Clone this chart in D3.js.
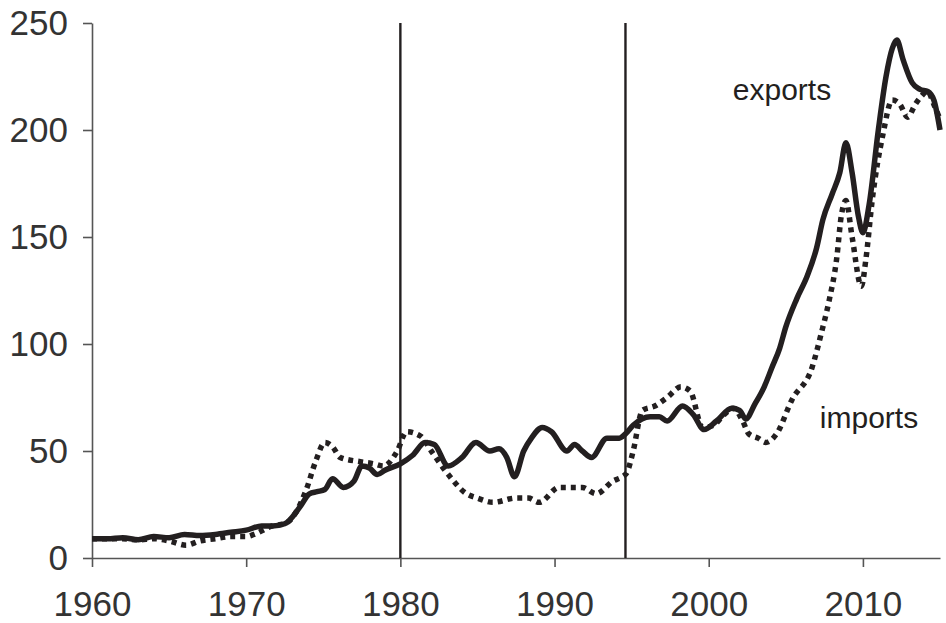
<!DOCTYPE html>
<html>
<head>
<meta charset="utf-8">
<script src="https://cdn.jsdelivr.net/npm/d3@7"></script>
<style>
  body { margin: 0; background: #fff; }
</style>
</head>
<body>
<div class="main"></div>
<script>
const width = 946;
const height = 623;
const margin = ({top: 23, right: 6, bottom: 65, left: 92});

// exports (solid line)
const exportYears = [1960, 1961, 1962, 1963, 1964, 1965, 1966, 1967, 1968, 1969, 1970, 1971, 1971.7, 1972.5, 1973.5, 1974.1, 1974.6, 1975.1, 1975.6, 1976.3, 1977, 1977.5, 1978, 1978.5, 1979, 1980, 1980.8, 1981.6, 1982.2, 1983.1, 1984, 1984.9, 1985.8, 1986.4, 1986.9, 1987.4, 1988, 1988.5, 1989.2, 1989.8, 1990.8, 1991.3, 1991.8, 1992.4, 1993.4, 1994.2, 1994.6, 1995.1, 1996.2, 1996.8, 1997.3, 1998.3, 1999, 1999.7, 2000.5, 2001.5, 2002, 2002.4, 2003, 2003.6, 2004.1, 2004.6, 2005, 2005.7, 2006.4, 2007, 2007.4, 2008, 2008.5, 2008.9, 2009.3, 2009.7, 2010, 2010.4, 2011, 2011.5, 2011.9, 2012.2, 2012.6, 2013.2, 2013.7, 2014.2, 2014.6, 2015];
const exportValues = [9, 9, 9.5, 8.5, 10, 9.5, 11, 10.5, 11, 12, 13, 15, 15, 16, 24, 30, 31, 32, 37, 33, 36, 43, 42, 39, 41, 44, 48, 54, 53, 43, 47, 54, 50, 51, 47, 38, 50, 56, 61, 59, 50, 53, 50, 47, 56, 56, 58, 62, 66, 66, 64, 71, 67, 60, 64, 70, 69, 65, 72, 80, 89, 98, 108, 121, 132, 145, 158, 170, 180, 194, 180, 160, 152, 165, 200, 225, 238, 242, 233, 222, 219, 218, 214, 200];

// imports (dotted line)
const importYears = [1960, 1961, 1962, 1963, 1964, 1965, 1966.1, 1967, 1968, 1969, 1970, 1970.5, 1971.7, 1972.5, 1973.2, 1973.9, 1974.5, 1975.1, 1975.6, 1976.1, 1977.4, 1978.3, 1978.9, 1979.8, 1980.4, 1981.3, 1982.1, 1983, 1984.3, 1985, 1986, 1987.5, 1988.3, 1989, 1990.3, 1991.8, 1992.7, 1993.8, 1994.4, 1994.7, 1995.1, 1995.7, 1996.5, 1997.3, 1998.2, 1998.8, 1999.6, 2000.3, 2001, 2001.6, 2002.2, 2002.6, 2003.2, 2003.7, 2004.4, 2005.4, 2006.7, 2007.3, 2007.8, 2008.3, 2008.6, 2008.9, 2009.3, 2009.9, 2010.2, 2010.6, 2011.3, 2011.9, 2012.4, 2012.9, 2013.4, 2013.7, 2014.2, 2014.6, 2015];
const importValues = [9, 9, 9, 8.5, 9, 8, 6, 8, 9, 10, 10, 11, 15, 16, 21, 32, 45, 54, 52, 47, 45, 44, 43, 50, 59, 57, 49, 40, 30, 28, 26, 28, 28, 26, 33, 33, 30, 36, 38, 40, 50, 69, 71, 75, 80, 78, 61, 62, 67, 70, 64, 58, 56, 54, 58, 74, 89, 105, 120, 140, 160, 167, 150, 127, 140, 167, 198, 214, 212, 206, 212, 215, 218, 212, 205];

const xTicks = [1960, 1970, 1980, 1990, 2000, 2010];
const yTicks = [0, 50, 100, 150, 200, 250];
const breakYears = [1980, 1994.6];

const svg = d3.select('.main')
  .append('svg')
  .attr('width', width)
  .attr('height', height)
  .style('font-family', '"Liberation Sans", Arial, Helvetica, sans-serif');

const x = d3.scaleLinear()
  .domain([1960, 2015])
  .range([margin.left, width - margin.right]);

const y = d3.scaleLinear()
  .domain([0, 250])
  .range([height - margin.bottom, margin.top]);

// axes
const xAxis = svg.append('g')
  .attr('transform', `translate(0, ${y(0)})`)
  .call(d3.axisBottom(x).tickValues(xTicks).tickFormat(d3.format('d')).tickSize(9).tickPadding(24).tickSizeOuter(0));

const yAxis = svg.append('g')
  .attr('transform', `translate(${x(1960)}, 0)`)
  .call(d3.axisLeft(y).tickValues(yTicks).tickSize(9).tickPadding(15).tickSizeOuter(0));

[xAxis, yAxis].forEach(g => {
  g.select('.domain').attr('stroke', '#555').attr('stroke-width', 1.6);
  g.selectAll('.tick line').attr('stroke', '#555').attr('stroke-width', 1.6);
  g.selectAll('.tick text')
    .attr('fill', '#333')
    .style('font-size', '35px')
    .style('font-family', '"Liberation Sans", Arial, Helvetica, sans-serif');
});

// vertical break lines
svg.append('g')
  .selectAll('line')
  .data(breakYears)
  .join('line')
  .attr('x1', d => x(d))
  .attr('x2', d => x(d))
  .attr('y1', y(250))
  .attr('y2', y(0))
  .attr('stroke', '#231f20')
  .attr('stroke-width', 2.4);

const line = d3.line()
  .x(d => x(d[0]))
  .y(d => y(d[1]))
  .curve(d3.curveMonotoneX);

const imports = importYears.map((yr, i) => [yr, importValues[i]]);
const exports = exportYears.map((yr, i) => [yr, exportValues[i]]);

svg.append('path')
  .datum(imports)
  .attr('d', line)
  .attr('fill', 'none')
  .attr('stroke', '#231f20')
  .attr('stroke-width', 5.5)
  .attr('stroke-dasharray', '5,5');

svg.append('path')
  .datum(exports)
  .attr('d', line)
  .attr('fill', 'none')
  .attr('stroke', '#231f20')
  .attr('stroke-width', 5.5)
  .attr('stroke-linejoin', 'round');

// series labels
svg.append('text')
  .attr('x', 782)
  .attr('y', 100)
  .attr('text-anchor', 'middle')
  .attr('fill', '#231f20')
  .style('font-size', '30px')
  .text('exports');

svg.append('text')
  .attr('x', 869)
  .attr('y', 428)
  .attr('text-anchor', 'middle')
  .attr('fill', '#231f20')
  .style('font-size', '30px')
  .text('imports');
</script>
</body>
</html>
